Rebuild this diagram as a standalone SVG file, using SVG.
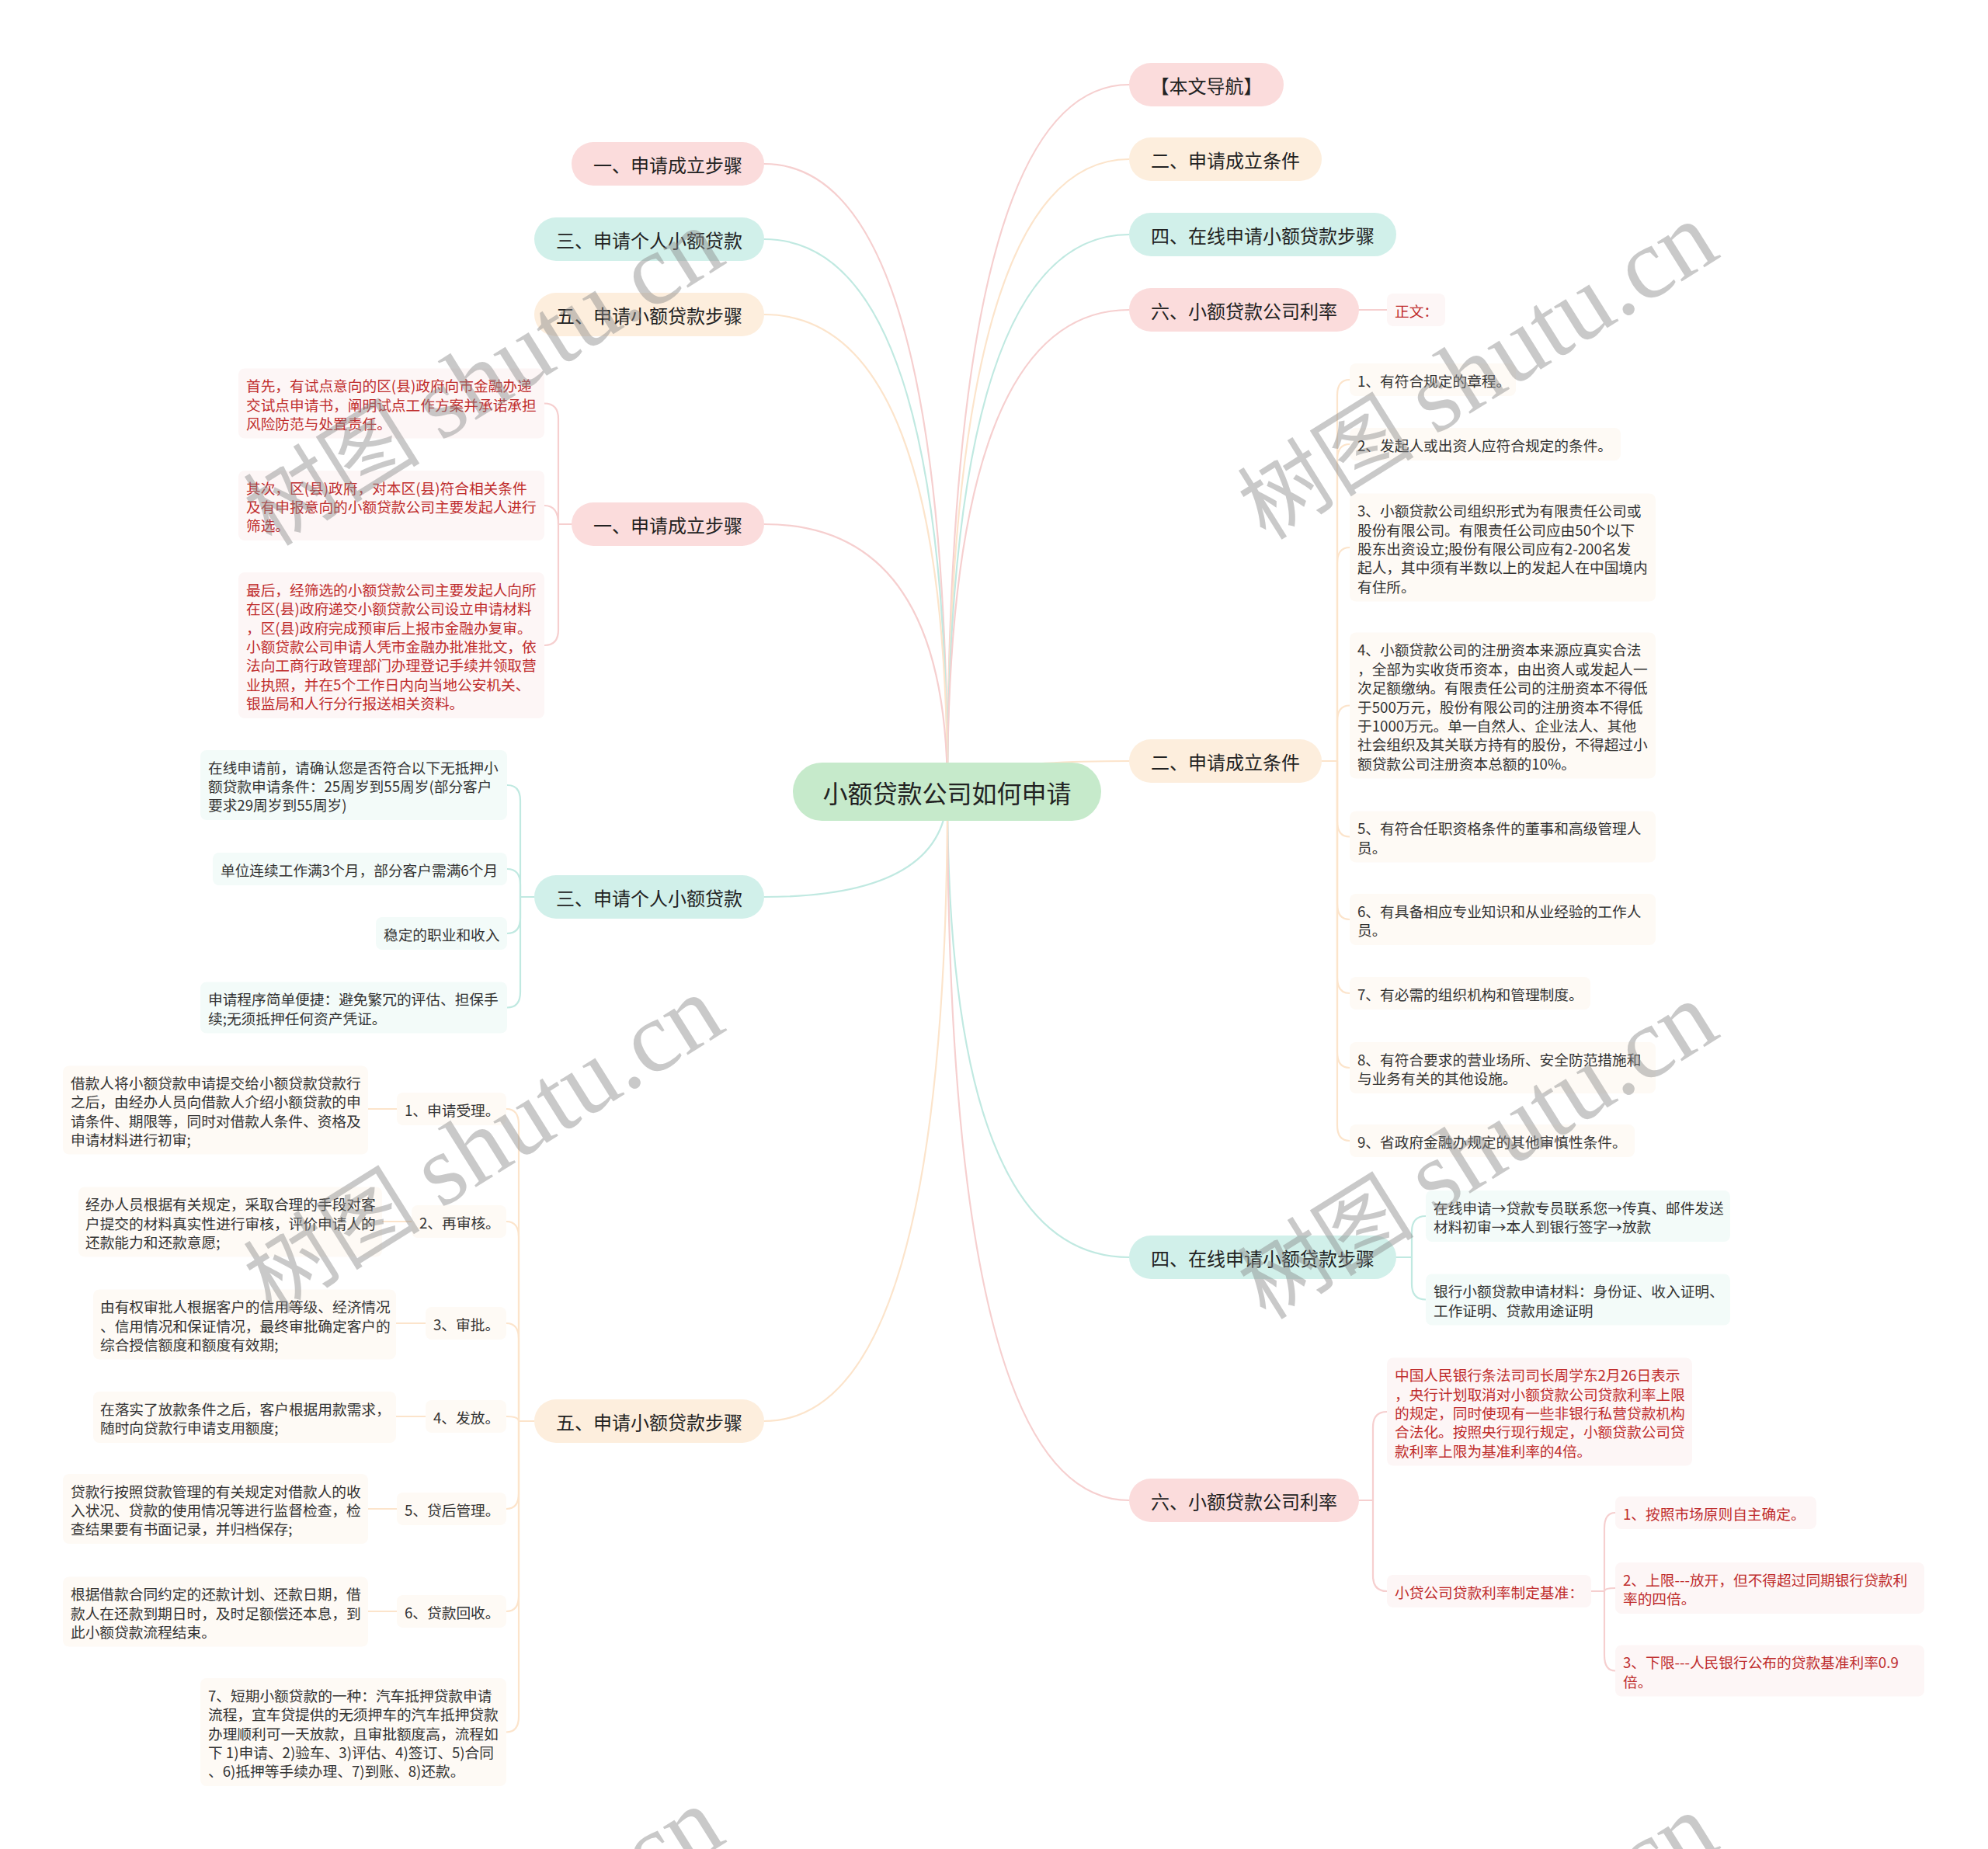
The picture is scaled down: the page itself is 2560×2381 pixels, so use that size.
<svg xmlns="http://www.w3.org/2000/svg" width="2560" height="2381" viewBox="0 0 2560 2381">
<style>
text, tspan { dominant-baseline: central; }
text { font-family: "Noto Sans CJK SC", "Noto Sans", sans-serif; }
.c { fill: none; stroke-width: 2.2; stroke-linecap: round; }
.lp { stroke: #f6cfcf; }
.lo { stroke: #fce4cb; }
.lt { stroke: #c0e9e1; }
.np { fill: #fbdcdc; }
.no { fill: #fdeedd; }
.nt { fill: #d1f0ea; }
.bp { fill: #fdf6f6; }
.bo { fill: #fefaf5; }
.bt { fill: #f3fbf9; }
.t24 { font-size: 24px; fill: #222; text-anchor: middle; }
.t18 { font-size: 18.7px; fill: #333; }
.red { fill: #bf2c2c; }
.wm { font-family: "Liberation Serif", "Noto Sans CJK SC", serif; font-size: 114px; fill: #8a8a8a; opacity: 0.45; dominant-baseline: alphabetic; }
.wm tspan { dominant-baseline: alphabetic; }
.wl { font-size: 130px; }
</style>

<g id="connectors">
  <path class="c lp" d="M1220 1019 Q1220 109 1454 109"/>
  <path class="c lo" d="M1220 1019 Q1220 205 1454 205"/>
  <path class="c lt" d="M1220 1019 Q1220 302 1454 302"/>
  <path class="c lp" d="M1220 1019 Q1220 399 1454 399"/>
  <path class="c lo" d="M1220 1019 Q1220 980 1454 980"/>
  <path class="c lt" d="M1220 1019 Q1220 1619 1454 1619"/>
  <path class="c lp" d="M1220 1019 Q1220 1932 1454 1932"/>
  <path class="c lp" d="M1220 1019 Q1220 211 984 211"/>
  <path class="c lt" d="M1220 1019 Q1220 308 984 308"/>
  <path class="c lo" d="M1220 1019 Q1220 405 984 405"/>
  <path class="c lp" d="M1220 1019 Q1220 675 984 675"/>
  <path class="c lt" d="M1220 1019 Q1220 1155 984 1155"/>
  <path class="c lo" d="M1220 1019 Q1220 1830 984 1830"/>

  <path class="c lp" d="M1749 399 H1786"/>

  <path class="c lo" d="M1702 980 H1722"/>
  <path class="c lo" d="M1722 980 V509 Q1722 489 1738 489"/>
  <path class="c lo" d="M1722 980 V592 Q1722 572 1738 572"/>
  <path class="c lo" d="M1722 980 V725 Q1722 705 1738 705"/>
  <path class="c lo" d="M1722 980 V928.5 Q1722 908.5 1738 908.5"/>
  <path class="c lo" d="M1722 980 V1057.5 Q1722 1077.5 1738 1077.5"/>
  <path class="c lo" d="M1722 980 V1164 Q1722 1184 1738 1184"/>
  <path class="c lo" d="M1722 980 V1259 Q1722 1279 1738 1279"/>
  <path class="c lo" d="M1722 980 V1355 Q1722 1375 1738 1375"/>
  <path class="c lo" d="M1722 980 V1449 Q1722 1469 1738 1469"/>

  <path class="c lt" d="M1798 1619 H1818"/>
  <path class="c lt" d="M1818 1619 V1586 Q1818 1566 1836 1566"/>
  <path class="c lt" d="M1818 1619 V1653.5 Q1818 1673.5 1836 1673.5"/>

  <path class="c lp" d="M1750 1932 H1768"/>
  <path class="c lp" d="M1768 1932 V1838 Q1768 1818 1786 1818"/>
  <path class="c lp" d="M1768 1932 V2029 Q1768 2049 1786 2049"/>
  <path class="c lp" d="M2049 2049 H2066"/>
  <path class="c lp" d="M2066 2049 V1968 Q2066 1948 2080 1948"/>
  <path class="c lp" d="M2066 2049 Q2066 2045 2080 2045"/>
  <path class="c lp" d="M2066 2049 V2131.5 Q2066 2151.5 2080 2151.5"/>

  <path class="c lp" d="M736 675 H719"/>
  <path class="c lp" d="M719 675 V539.5 Q719 519.5 701 519.5"/>
  <path class="c lp" d="M719 675 Q719 651 701 651"/>
  <path class="c lp" d="M719 675 V811 Q719 831 701 831"/>

  <path class="c lt" d="M688 1155 H670"/>
  <path class="c lt" d="M670 1155 V1031 Q670 1011 653 1011"/>
  <path class="c lt" d="M670 1155 V1139 Q670 1119 653 1119"/>
  <path class="c lt" d="M670 1155 V1182 Q670 1202 653 1202"/>
  <path class="c lt" d="M670 1155 V1277.5 Q670 1297.5 653 1297.5"/>

  <path class="c lo" d="M688 1830 H668"/>
  <path class="c lo" d="M668 1830 V1448 Q668 1428 652 1428"/>
  <path class="c lo" d="M668 1830 V1593 Q668 1573 652 1573"/>
  <path class="c lo" d="M668 1830 V1724 Q668 1704 652 1704"/>
  <path class="c lo" d="M668 1830 Q668 1824 652 1824"/>
  <path class="c lo" d="M668 1830 V1923 Q668 1943 652 1943"/>
  <path class="c lo" d="M668 1830 V2055 Q668 2075 652 2075"/>
  <path class="c lo" d="M668 1830 V2210.5 Q668 2230.5 652 2230.5"/>
  <path class="c lo" d="M511 1428 H474"/>
  <path class="c lo" d="M530 1573 H492"/>
  <path class="c lo" d="M548 1704 H510"/>
  <path class="c lo" d="M548 1824 H510"/>
  <path class="c lo" d="M511 1943 H474"/>
  <path class="c lo" d="M511 2075 H474"/>
</g>

<g id="center">
  <rect x="1021" y="982" width="397" height="75" rx="37.5" fill="#c6eacb"/>
  <text x="1219.5" y="1019.5" font-size="32" fill="#222" text-anchor="middle">小额贷款公司如何申请</text>
</g>

<g id="nav"><rect class="np" x="1454" y="81" width="199" height="56" rx="28"/><text class="t24" x="1553.5" y="109">【本文导航】</text></g>
<g id="r-er"><rect class="no" x="1454" y="177" width="248" height="56" rx="28"/><text class="t24" x="1578" y="205">二、申请成立条件</text></g>
<g id="r-si"><rect class="nt" x="1454" y="274" width="344" height="56" rx="28"/><text class="t24" x="1626" y="302">四、在线申请小额贷款步骤</text></g>
<g id="r-liu"><rect class="np" x="1454" y="371" width="296" height="56" rx="28"/><text class="t24" x="1602" y="399">六、小额贷款公司利率</text></g>
<g id="zhengwen"><rect class="bp" x="1786" y="378" width="75" height="42" rx="8"/><text class="t18 red" x="1796" y="399">正文：</text></g>

<g id="l-yi"><rect class="np" x="736" y="183" width="248" height="56" rx="28"/><text class="t24" x="860" y="211">一、申请成立步骤</text></g>
<g id="l-san"><rect class="nt" x="688" y="280" width="296" height="56" rx="28"/><text class="t24" x="836" y="308">三、申请个人小额贷款</text></g>
<g id="l-wu"><rect class="no" x="688" y="377" width="296" height="56" rx="28"/><text class="t24" x="836" y="405">五、申请小额贷款步骤</text></g>

<g id="m-yi"><rect class="np" x="736" y="647" width="248" height="56" rx="28"/><text class="t24" x="860" y="675">一、申请成立步骤</text></g>
<g id="yi-1"><rect class="bp" x="307" y="474.5" width="394" height="90" rx="8"/>
<text class="t18 red"><tspan x="317" y="495.1">首先，有试点意向的区(县)政府向市金融办递</tspan><tspan x="317" y="519.5">交试点申请书，阐明试点工作方案并承诺承担</tspan><tspan x="317" y="543.9">风险防范与处置责任。</tspan></text></g>
<g id="yi-2"><rect class="bp" x="307" y="606" width="394" height="90" rx="8"/>
<text class="t18 red"><tspan x="317" y="626.6">其次，区(县)政府，对本区(县)符合相关条件</tspan><tspan x="317" y="651">及有申报意向的小额贷款公司主要发起人进行</tspan><tspan x="317" y="675.4">筛选。</tspan></text></g>
<g id="yi-3"><rect class="bp" x="307" y="737" width="394" height="188" rx="8"/>
<text class="t18 red"><tspan x="317" y="757.8">最后，经筛选的小额贷款公司主要发起人向所</tspan><tspan x="317" y="782.2">在区(县)政府递交小额贷款公司设立申请材料</tspan><tspan x="317" y="806.6">，区(县)政府完成预审后上报市金融办复审。</tspan><tspan x="317" y="831">小额贷款公司申请人凭市金融办批准批文，依</tspan><tspan x="317" y="855.4">法向工商行政管理部门办理登记手续并领取营</tspan><tspan x="317" y="879.8">业执照，并在5个工作日内向当地公安机关、</tspan><tspan x="317" y="904.2">银监局和人行分行报送相关资料。</tspan></text></g>

<g id="m-san"><rect class="nt" x="688" y="1127" width="296" height="56" rx="28"/><text class="t24" x="836" y="1155">三、申请个人小额贷款</text></g>
<g id="san-1"><rect class="bt" x="258" y="966" width="395" height="90" rx="8"/>
<text class="t18"><tspan x="268" y="986.6">在线申请前，请确认您是否符合以下无抵押小</tspan><tspan x="268" y="1011">额贷款申请条件：25周岁到55周岁(部分客户</tspan><tspan x="268" y="1035.4">要求29周岁到55周岁)</tspan></text></g>
<g id="san-2"><rect class="bt" x="274" y="1098" width="379" height="42" rx="8"/><text class="t18" x="284" y="1119">单位连续工作满3个月，部分客户需满6个月</text></g>
<g id="san-3"><rect class="bt" x="484" y="1181" width="169" height="42" rx="8"/><text class="t18" x="494" y="1202">稳定的职业和收入</text></g>
<g id="san-4"><rect class="bt" x="258" y="1264.5" width="395" height="66" rx="8"/>
<text class="t18"><tspan x="268" y="1285.3">申请程序简单便捷：避免繁冗的评估、担保手</tspan><tspan x="268" y="1309.7">续;无须抵押任何资产凭证。</tspan></text></g>

<g id="m-wu"><rect class="no" x="688" y="1802" width="296" height="56" rx="28"/><text class="t24" x="836" y="1830">五、申请小额贷款步骤</text></g>
<g id="wu-s1"><rect class="bo" x="511" y="1407" width="141" height="42" rx="8"/><text class="t18" x="521" y="1428">1、申请受理。</text></g>
<g id="wu-s2"><rect class="bo" x="530" y="1552" width="122" height="42" rx="8"/><text class="t18" x="540" y="1573">2、再审核。</text></g>
<g id="wu-s3"><rect class="bo" x="548" y="1683" width="104" height="42" rx="8"/><text class="t18" x="558" y="1704">3、审批。</text></g>
<g id="wu-s4"><rect class="bo" x="548" y="1803" width="104" height="42" rx="8"/><text class="t18" x="558" y="1824">4、发放。</text></g>
<g id="wu-s5"><rect class="bo" x="511" y="1922" width="141" height="42" rx="8"/><text class="t18" x="521" y="1943">5、贷后管理。</text></g>
<g id="wu-s6"><rect class="bo" x="511" y="2054" width="141" height="42" rx="8"/><text class="t18" x="521" y="2075">6、贷款回收。</text></g>
<g id="wu-s7"><rect class="bo" x="258" y="2161" width="394" height="139" rx="8"/>
<text class="t18"><tspan x="268" y="2181.8">7、短期小额贷款的一种：汽车抵押贷款申请</tspan><tspan x="268" y="2206.2">流程，宜车贷提供的无须押车的汽车抵押贷款</tspan><tspan x="268" y="2230.6">办理顺利可一天放款，且审批额度高，流程如</tspan><tspan x="268" y="2255">下 1)申请、2)验车、3)评估、4)签订、5)合同</tspan><tspan x="268" y="2279.4">、6)抵押等手续办理、7)到账、8)还款。</tspan></text></g>
<g id="wu-d1"><rect class="bo" x="81" y="1372.5" width="393" height="114" rx="8"/>
<text class="t18"><tspan x="91" y="1392.9">借款人将小额贷款申请提交给小额贷款贷款行</tspan><tspan x="91" y="1417.3">之后，由经办人员向借款人介绍小额贷款的申</tspan><tspan x="91" y="1441.7">请条件、期限等，同时对借款人条件、资格及</tspan><tspan x="91" y="1466.1">申请材料进行初审;</tspan></text></g>
<g id="wu-d2"><rect class="bo" x="101" y="1528.5" width="391" height="90" rx="8"/>
<text class="t18"><tspan x="110" y="1549.1">经办人员根据有关规定，采取合理的手段对客</tspan><tspan x="110" y="1573.5">户提交的材料真实性进行审核，评价申请人的</tspan><tspan x="110" y="1597.9">还款能力和还款意愿;</tspan></text></g>
<g id="wu-d3"><rect class="bo" x="120" y="1660.5" width="390" height="90" rx="8"/>
<text class="t18"><tspan x="129" y="1681.1">由有权审批人根据客户的信用等级、经济情况</tspan><tspan x="129" y="1705.5">、信用情况和保证情况，最终审批确定客户的</tspan><tspan x="129" y="1729.9">综合授信额度和额度有效期;</tspan></text></g>
<g id="wu-d4"><rect class="bo" x="120" y="1792" width="390" height="66" rx="8"/>
<text class="t18"><tspan x="129" y="1812.8">在落实了放款条件之后，客户根据用款需求，</tspan><tspan x="129" y="1837.2">随时向贷款行申请支用额度;</tspan></text></g>
<g id="wu-d5"><rect class="bo" x="81" y="1898" width="393" height="90" rx="8"/>
<text class="t18"><tspan x="91" y="1918.6">贷款行按照贷款管理的有关规定对借款人的收</tspan><tspan x="91" y="1943">入状况、贷款的使用情况等进行监督检查，检</tspan><tspan x="91" y="1967.4">查结果要有书面记录，并归档保存;</tspan></text></g>
<g id="wu-d6"><rect class="bo" x="81" y="2030.5" width="393" height="90" rx="8"/>
<text class="t18"><tspan x="91" y="2051.1">根据借款合同约定的还款计划、还款日期，借</tspan><tspan x="91" y="2075.5">款人在还款到期日时，及时足额偿还本息，到</tspan><tspan x="91" y="2099.9">此小额贷款流程结束。</tspan></text></g>

<g id="m-er"><rect class="no" x="1454" y="952" width="248" height="56" rx="28"/><text class="t24" x="1578" y="980">二、申请成立条件</text></g>
<g id="er-1"><rect class="bo" x="1738" y="468" width="214" height="42" rx="8"/><text class="t18" x="1748" y="489">1、有符合规定的章程。</text></g>
<g id="er-2"><rect class="bo" x="1738" y="551" width="349" height="42" rx="8"/><text class="t18" x="1748" y="572">2、发起人或出资人应符合规定的条件。</text></g>
<g id="er-3"><rect class="bo" x="1738" y="635.5" width="394" height="139" rx="8"/>
<text class="t18"><tspan x="1748" y="656.2">3、小额贷款公司组织形式为有限责任公司或</tspan><tspan x="1748" y="680.6">股份有限公司。有限责任公司应由50个以下</tspan><tspan x="1748" y="705">股东出资设立;股份有限公司应有2-200名发</tspan><tspan x="1748" y="729.4">起人，其中须有半数以上的发起人在中国境内</tspan><tspan x="1748" y="753.8">有住所。</tspan></text></g>
<g id="er-4"><rect class="bo" x="1738" y="814.5" width="394" height="188" rx="8"/>
<text class="t18"><tspan x="1748" y="835.3">4、小额贷款公司的注册资本来源应真实合法</tspan><tspan x="1748" y="859.7">，全部为实收货币资本，由出资人或发起人一</tspan><tspan x="1748" y="884.1">次足额缴纳。有限责任公司的注册资本不得低</tspan><tspan x="1748" y="908.5">于500万元，股份有限公司的注册资本不得低</tspan><tspan x="1748" y="932.9">于1000万元。单一自然人、企业法人、其他</tspan><tspan x="1748" y="957.3">社会组织及其关联方持有的股份，不得超过小</tspan><tspan x="1748" y="981.7">额贷款公司注册资本总额的10%。</tspan></text></g>
<g id="er-5"><rect class="bo" x="1738" y="1044.5" width="394" height="66" rx="8"/>
<text class="t18"><tspan x="1748" y="1065.3">5、有符合任职资格条件的董事和高级管理人</tspan><tspan x="1748" y="1089.7">员。</tspan></text></g>
<g id="er-6"><rect class="bo" x="1738" y="1151" width="394" height="66" rx="8"/>
<text class="t18"><tspan x="1748" y="1171.8">6、有具备相应专业知识和从业经验的工作人</tspan><tspan x="1748" y="1196.2">员。</tspan></text></g>
<g id="er-7"><rect class="bo" x="1738" y="1258" width="310" height="42" rx="8"/><text class="t18" x="1748" y="1279">7、有必需的组织机构和管理制度。</text></g>
<g id="er-8"><rect class="bo" x="1738" y="1342" width="394" height="66" rx="8"/>
<text class="t18"><tspan x="1748" y="1362.8">8、有符合要求的营业场所、安全防范措施和</tspan><tspan x="1748" y="1387.2">与业务有关的其他设施。</tspan></text></g>
<g id="er-9"><rect class="bo" x="1738" y="1448" width="367" height="42" rx="8"/><text class="t18" x="1748" y="1469">9、省政府金融办规定的其他审慎性条件。</text></g>

<g id="m-si"><rect class="nt" x="1454" y="1591" width="344" height="56" rx="28"/><text class="t24" x="1626" y="1619">四、在线申请小额贷款步骤</text></g>
<g id="si-1"><rect class="bt" x="1836" y="1533" width="392" height="66" rx="8"/>
<text class="t18"><tspan x="1846" y="1553.8">在线申请→贷款专员联系您→传真、邮件发送</tspan><tspan x="1846" y="1578.2">材料初审→本人到银行签字→放款</tspan></text></g>
<g id="si-2"><rect class="bt" x="1836" y="1640.5" width="392" height="66" rx="8"/>
<text class="t18"><tspan x="1846" y="1661.3">银行小额贷款申请材料：身份证、收入证明、</tspan><tspan x="1846" y="1685.7">工作证明、贷款用途证明</tspan></text></g>

<g id="m-liu"><rect class="np" x="1454" y="1904" width="296" height="56" rx="28"/><text class="t24" x="1602" y="1932">六、小额贷款公司利率</text></g>
<g id="liu-1"><rect class="bp" x="1786" y="1748.5" width="393" height="139" rx="8"/>
<text class="t18 red"><tspan x="1796" y="1769.2">中国人民银行条法司司长周学东2月26日表示</tspan><tspan x="1796" y="1793.6">，央行计划取消对小额贷款公司贷款利率上限</tspan><tspan x="1796" y="1818">的规定，同时使现有一些非银行私营贷款机构</tspan><tspan x="1796" y="1842.4">合法化。按照央行现行规定，小额贷款公司贷</tspan><tspan x="1796" y="1866.8">款利率上限为基准利率的4倍。</tspan></text></g>
<g id="liu-2"><rect class="bp" x="1786" y="2028" width="263" height="42" rx="8"/><text class="t18 red" x="1796" y="2049">小贷公司贷款利率制定基准：</text></g>
<g id="liu-2-1"><rect class="bp" x="2080" y="1927" width="259" height="42" rx="8"/><text class="t18 red" x="2090" y="1948">1、按照市场原则自主确定。</text></g>
<g id="liu-2-2"><rect class="bp" x="2080" y="2012" width="398" height="66" rx="8"/>
<text class="t18 red"><tspan x="2090" y="2032.8">2、上限---放开，但不得超过同期银行贷款利</tspan><tspan x="2090" y="2057.2">率的四倍。</tspan></text></g>
<g id="liu-2-3"><rect class="bp" x="2080" y="2118.5" width="398" height="66" rx="8"/>
<text class="t18 red"><tspan x="2090" y="2139.3">3、下限---人民银行公布的贷款基准利率0.9</tspan><tspan x="2090" y="2163.7">倍。</tspan></text></g>

<g id="watermarks">
  <text class="wm" transform="translate(350 705) rotate(-32)">树图 <tspan class="wl">shutu.cn</tspan></text>
  <text class="wm" transform="translate(1630 697) rotate(-32)">树图 <tspan class="wl">shutu.cn</tspan></text>
  <text class="wm" transform="translate(350 1693) rotate(-32)">树图 <tspan class="wl">shutu.cn</tspan></text>
  <text class="wm" transform="translate(1630 1701) rotate(-32)">树图 <tspan class="wl">shutu.cn</tspan></text>
  <text class="wm" transform="translate(350 2738) rotate(-32)">树图 <tspan class="wl">shutu.cn</tspan></text>
  <text class="wm" transform="translate(1630 2746) rotate(-32)">树图 <tspan class="wl">shutu.cn</tspan></text>
</g>
</svg>
